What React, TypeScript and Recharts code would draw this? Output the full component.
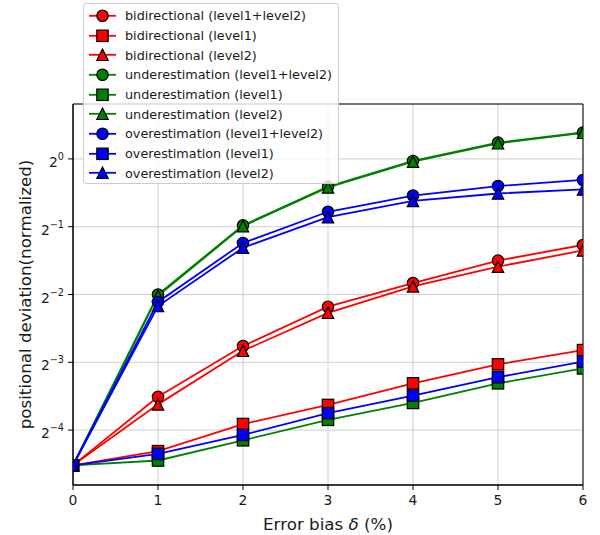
import { LineChart, Line, XAxis, YAxis, CartesianGrid, ReferenceArea } from "recharts";

// error bias delta (%) on the x axis
const errorBias = [0, 1, 2, 3, 4, 5, 6];
const xTicks = [0, 1, 2, 3, 4, 5, 6];
// y ticks are powers of two: 2^-4 ... 2^0
const yTickExponents = [-4, -3, -2, -1, 0];

// normalized positional deviation per series
const bidirBoth = [0.0436, 0.0878, 0.1476, 0.2207, 0.281, 0.3536, 0.4147];
const bidirLevel1 = [0.0436, 0.0504, 0.0665, 0.0808, 0.1008, 0.1224, 0.1416];
const bidirLevel2 = [0.0436, 0.0813, 0.1406, 0.2073, 0.2717, 0.3322, 0.3923];
const underBoth = [0.0436, 0.25, 0.507, 0.7527, 0.9794, 1.181, 1.31];
const underLevel1 = [0.0436, 0.0458, 0.0563, 0.0694, 0.0825, 0.1008, 0.1174];
const underLevel2 = [0.0436, 0.247, 0.503, 0.747, 0.973, 1.173, 1.306];
const overBoth = [0.0436, 0.2316, 0.4234, 0.5826, 0.6878, 0.7579, 0.8066];
const overLevel1 = [0.0436, 0.049, 0.0595, 0.0743, 0.089, 0.1073, 0.1259];
const overLevel2 = [0.0436, 0.2222, 0.4033, 0.551, 0.6507, 0.7022, 0.732];

const RED = "#ff0000";
const GREEN = "#008000";
const BLUE = "#0000ff";

type Shape = "circle" | "square" | "triangle";

const series: { key: string; name: string; values: number[]; color: string; shape: Shape }[] = [
  { key: "bidirBoth", name: "bidirectional (level1+level2)", values: bidirBoth, color: RED, shape: "circle" },
  { key: "bidirLevel1", name: "bidirectional (level1)", values: bidirLevel1, color: RED, shape: "square" },
  { key: "bidirLevel2", name: "bidirectional (level2)", values: bidirLevel2, color: RED, shape: "triangle" },
  { key: "underBoth", name: "underestimation (level1+level2)", values: underBoth, color: GREEN, shape: "circle" },
  { key: "underLevel1", name: "underestimation (level1)", values: underLevel1, color: GREEN, shape: "square" },
  { key: "underLevel2", name: "underestimation (level2)", values: underLevel2, color: GREEN, shape: "triangle" },
  { key: "overBoth", name: "overestimation (level1+level2)", values: overBoth, color: BLUE, shape: "circle" },
  { key: "overLevel1", name: "overestimation (level1)", values: overLevel1, color: BLUE, shape: "square" },
  { key: "overLevel2", name: "overestimation (level2)", values: overLevel2, color: BLUE, shape: "triangle" },
];

// plotted on a log2 scale: store the exponent
const chartData = errorBias.map((x, i) => {
  const row: Record<string, number> = { x };
  series.forEach((s) => {
    row[s.key] = Math.log2(s.values[i]);
  });
  return row;
});

const Y_MIN = -4.81;
const Y_MAX = 0.81;
const FONT = "'DejaVu Sans', sans-serif";
const TEXT = "#1a1a1a";

const WIDTH = 600;
const HEIGHT = 535;
const MARGIN = { top: 104, right: 17, bottom: 0, left: 0 };
const Y_AXIS_W = 73;
const X_AXIS_H = 50;

// the plot frame, used to cut markers at the axes
const FRAME = {
  x: MARGIN.left + Y_AXIS_W,
  y: MARGIN.top,
  w: WIDTH - MARGIN.left - Y_AXIS_W - MARGIN.right,
  h: HEIGHT - MARGIN.top - MARGIN.bottom - X_AXIS_H,
};

function MarkerShape({ shape, cx, cy, color, size = 5.7 }: { shape: Shape; cx: number; cy: number; color: string; size?: number }) {
  const s = size;
  const common = { fill: color, stroke: "#000", strokeWidth: 1.2 };
  if (shape === "circle") {
    return <circle cx={cx} cy={cy} r={s} {...common} />;
  }
  if (shape === "square") {
    return <rect x={cx - s} y={cy - s} width={2 * s} height={2 * s} {...common} />;
  }
  return <polygon points={`${cx},${cy - s} ${cx - s},${cy + s} ${cx + s},${cy + s}`} {...common} />;
}

// nested svg viewport clips the marker to the frame
function ClippedMarker(props: { shape: Shape; cx: number; cy: number; color: string }) {
  return (
    <svg
      x={FRAME.x}
      y={FRAME.y}
      width={FRAME.w}
      height={FRAME.h}
      viewBox={`${FRAME.x} ${FRAME.y} ${FRAME.w} ${FRAME.h}`}
      overflow="hidden"
    >
      <MarkerShape {...props} />
    </svg>
  );
}

function XTick({ x, y, payload }: any) {
  return (
    <text x={x} y={y + 11} textAnchor="middle" fontSize={13.9} fontFamily={FONT} fill={TEXT}>
      {payload.value}
    </text>
  );
}

function YTick({ x, y, payload }: any) {
  const exp = payload.value === 0 ? "0" : `\u2212${Math.abs(payload.value)}`;
  return (
    <text x={x} y={y + 8} textAnchor="end" fontSize={13.9} fontFamily={FONT} fill={TEXT}>
      2
      <tspan dy={-7} fontSize={9.7}>
        {exp}
      </tspan>
    </text>
  );
}

function XTitle({ viewBox }: any) {
  const cx = viewBox.x + viewBox.width / 2;
  return (
    <text x={cx} y={530} textAnchor="middle" fontSize={16.7} fontFamily={FONT} fill={TEXT}>
      Error bias <tspan fontStyle="italic">δ</tspan> (%)
    </text>
  );
}

function YTitle({ viewBox }: any) {
  const cx = 31;
  const cy = viewBox.y + viewBox.height / 2;
  return (
    <text
      x={cx}
      y={cy}
      transform={`rotate(-90, ${cx}, ${cy})`}
      textAnchor="middle"
      fontSize={16.7}
      fontFamily={FONT}
      fill={TEXT}
    >
      positional deviation(normalized)
    </text>
  );
}

function LegendBox() {
  return (
    <div
      style={{
        position: "absolute",
        left: 83,
        top: 3,
        width: 256,
        height: 181,
        boxSizing: "border-box",
        background: "rgba(255,255,255,0.8)",
        border: "1px solid #cccccc",
        borderRadius: 3,
        paddingTop: 2,
        fontFamily: FONT,
        fontSize: 12.8,
        color: TEXT,
      }}
    >
      {series.map((s) => (
        <div key={s.key} style={{ display: "flex", alignItems: "center", height: 19.67 }}>
          <svg width={41} height={19.67} style={{ flexShrink: 0 }}>
            <line x1={5} x2={32} y1={9.8} y2={9.8} stroke={s.color} strokeWidth={1.8} />
            <MarkerShape shape={s.shape} cx={18.5} cy={9.8} color={s.color} />
          </svg>
          <span style={{ whiteSpace: "nowrap" }}>{s.name}</span>
        </div>
      ))}
    </div>
  );
}

export default function App() {
  return (
    <div style={{ position: "absolute", left: 0, top: 0, width: WIDTH, height: HEIGHT, background: "#fff" }}>
      <LineChart width={WIDTH} height={HEIGHT} data={chartData} margin={MARGIN}>
        <CartesianGrid stroke="#cfcfcf" strokeWidth={1} />
        <XAxis
          dataKey="x"
          type="number"
          domain={[0, 6]}
          ticks={xTicks}
          allowDataOverflow
          height={X_AXIS_H}
          tickSize={5}
          tickMargin={4}
          tick={<XTick />}
          stroke="#000"
          tickLine={{ stroke: "#000" }}
          label={<XTitle />}
        />
        <YAxis
          type="number"
          domain={[Y_MIN, Y_MAX]}
          ticks={yTickExponents}
          allowDataOverflow
          width={Y_AXIS_W}
          tickSize={5}
          tickMargin={4}
          tick={<YTick />}
          stroke="#000"
          tickLine={{ stroke: "#000" }}
          label={<YTitle />}
        />
        {series.map((s) => (
          <Line
            key={s.key}
            type="linear"
            dataKey={s.key}
            name={s.name}
            stroke={s.color}
            strokeWidth={1.8}
            isAnimationActive={false}
            activeDot={false}
            dot={(p: any) => (
              <ClippedMarker key={`${s.key}-${p.index}`} shape={s.shape} cx={p.cx} cy={p.cy} color={s.color} />
            )}
          />
        ))}
        <ReferenceArea x1={0} x2={6} y1={Y_MIN} y2={Y_MAX} fill="none" stroke="#000" strokeWidth={1} />
      </LineChart>
      <LegendBox />
    </div>
  );
}
